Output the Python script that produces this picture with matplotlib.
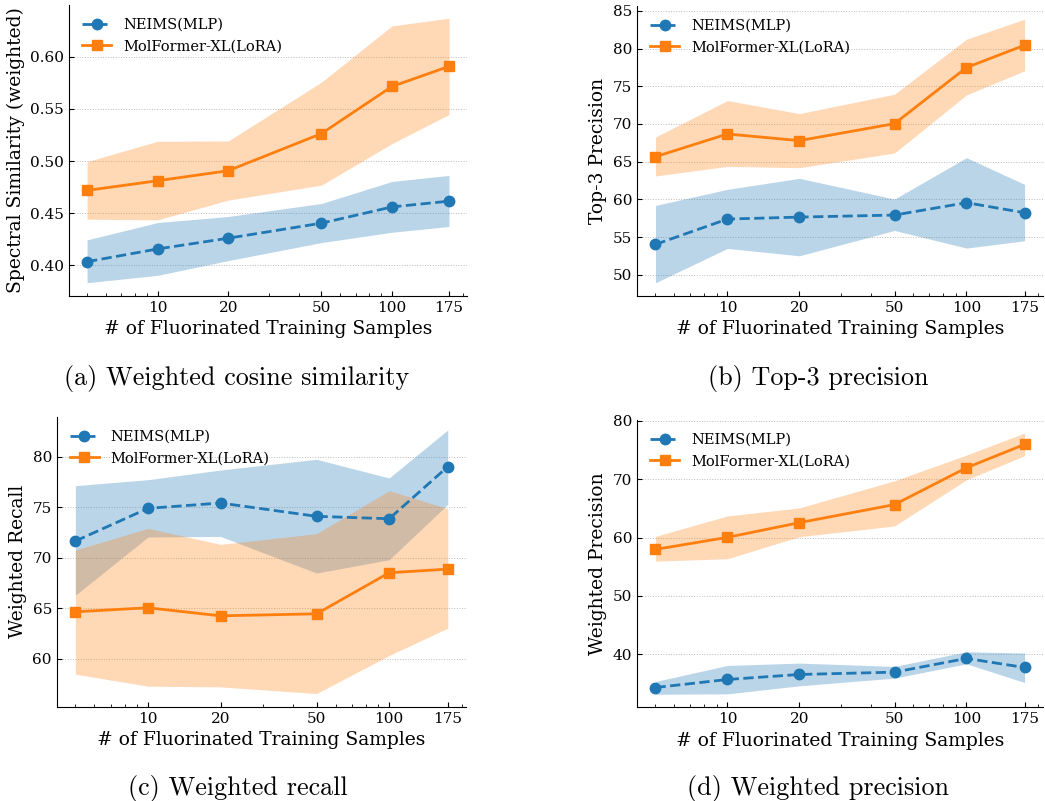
import matplotlib
matplotlib.use("Agg")
import matplotlib.pyplot as plt
from matplotlib.ticker import NullFormatter

n_samples = [5, 10, 20, 50, 100, 175]
tick_vals = [10, 20, 50, 100, 175]

# (a) weighted cosine similarity
cos_neims = [0.4035, 0.4157, 0.426, 0.4404, 0.456, 0.4615]
cos_neims_hi = [0.4244, 0.441, 0.4468, 0.4593, 0.4804, 0.4862]
cos_neims_lo = [0.3833, 0.3904, 0.4045, 0.4218, 0.4317, 0.4372]
cos_molf = [0.4718, 0.4811, 0.4907, 0.5263, 0.5715, 0.5907]
cos_molf_hi = [0.4994, 0.5189, 0.5192, 0.5756, 0.6295, 0.6369]
cos_molf_lo = [0.4442, 0.4436, 0.4625, 0.4769, 0.5167, 0.5446]

# (b) top-3 precision
top3_neims = [54.03, 57.39, 57.65, 57.92, 59.56, 58.23]
top3_neims_hi = [59.2, 61.33, 62.79, 60.04, 65.53, 61.99]
top3_neims_lo = [48.94, 53.5, 52.52, 55.88, 53.54, 54.51]
top3_molf = [65.66, 68.67, 67.79, 70.04, 77.48, 80.44]
top3_molf_hi = [68.27, 73.1, 71.37, 73.94, 81.24, 83.89]
top3_molf_lo = [63.1, 64.38, 64.2, 66.15, 73.85, 77.04]

# (c) weighted recall
rec_neims = [71.67, 74.91, 75.44, 74.12, 73.88, 79.04]
rec_neims_hi = [77.16, 77.75, 78.71, 79.77, 77.92, 82.68]
rec_neims_lo = [66.31, 72.07, 72.13, 68.5, 69.82, 75.31]
rec_molf = [64.66, 65.06, 64.26, 64.46, 68.53, 68.89]
rec_molf_hi = [70.78, 72.93, 71.34, 72.4, 76.66, 74.88]
rec_molf_lo = [58.48, 57.29, 57.22, 56.56, 60.33, 63.04]

# (d) weighted precision
prec_neims = [34.26, 35.64, 36.5, 36.9, 39.25, 37.7]
prec_neims_hi = [35.3, 38.05, 38.45, 37.88, 40.4, 40.17]
prec_neims_lo = [33.11, 33.17, 34.55, 35.87, 38.33, 35.12]
prec_molf = [57.96, 60.03, 62.55, 65.65, 71.97, 75.98]
prec_molf_hi = [60.2, 63.7, 65.08, 69.73, 74.15, 77.93]
prec_molf_lo = [55.95, 56.36, 60.14, 61.98, 69.9, 74.03]

plt.rcParams['font.family'] = 'DejaVu Serif'
blue = '#1f77b4'
orange = '#ff7f0e'


def draw_panel(ax, neims, n_lo, n_hi, molf, m_lo, m_hi, ylabel):
    ax.fill_between(n_samples, n_lo, n_hi, color=blue, alpha=0.3, lw=0)
    ax.plot(n_samples, neims, '--o', color=blue, lw=2, ms=7.5, label='NEIMS(MLP)')
    ax.fill_between(n_samples, m_lo, m_hi, color=orange, alpha=0.3, lw=0)
    ax.plot(n_samples, molf, '-s', color=orange, lw=2, ms=7.5, label='MolFormer-XL(LoRA)')
    ax.set_xscale('log')
    ax.set_xticks(tick_vals)
    ax.set_xticklabels([str(v) for v in tick_vals])
    ax.xaxis.set_minor_formatter(NullFormatter())
    ax.tick_params(axis='both', which='both', direction='in', labelsize=11)
    ax.tick_params(axis='x', which='minor', length=2.5)
    ax.spines['top'].set_visible(False)
    ax.spines['right'].set_visible(False)
    ax.grid(axis='y', linestyle=':', color='#bbbbbb', lw=0.7)
    ax.set_axisbelow(True)
    ax.set_xlabel('# of Fluorinated Training Samples', fontsize=13.5)
    ax.set_ylabel(ylabel, fontsize=13.5)
    ax.legend(loc='upper left', frameon=False, fontsize=10.5)


fig = plt.figure(figsize=(10.45, 8.01), dpi=100)
ax_a = fig.add_axes([0.066, 0.6305, 0.381, 0.3633])
ax_b = fig.add_axes([0.6096, 0.6305, 0.3885, 0.362])
ax_c = fig.add_axes([0.0543, 0.1177, 0.392, 0.362])
ax_d = fig.add_axes([0.6096, 0.117, 0.3885, 0.3587])

draw_panel(ax_a, cos_neims, cos_neims_lo, cos_neims_hi, cos_molf, cos_molf_lo, cos_molf_hi,
           'Spectral Similarity (weighted)')
draw_panel(ax_b, top3_neims, top3_neims_lo, top3_neims_hi, top3_molf, top3_molf_lo, top3_molf_hi,
           'Top-3 Precision')
draw_panel(ax_c, rec_neims, rec_neims_lo, rec_neims_hi, rec_molf, rec_molf_lo, rec_molf_hi,
           'Weighted Recall')
draw_panel(ax_d, prec_neims, prec_neims_lo, prec_neims_hi, prec_molf, prec_molf_lo, prec_molf_hi,
           'Weighted Precision')

cap = dict(fontfamily='cmr10', fontsize=18.8, ha='center', va='center')
fig.text(237 / 1045, 1 - 378 / 801, '(a) Weighted cosine similarity', **cap)
fig.text(818 / 1045, 1 - 378 / 801, '(b) Top-3 precision', **cap)
fig.text(238 / 1045, 1 - 788 / 801, '(c) Weighted recall', **cap)
fig.text(818 / 1045, 1 - 788 / 801, '(d) Weighted precision', **cap)

fig.savefig('out.png', dpi=100)
